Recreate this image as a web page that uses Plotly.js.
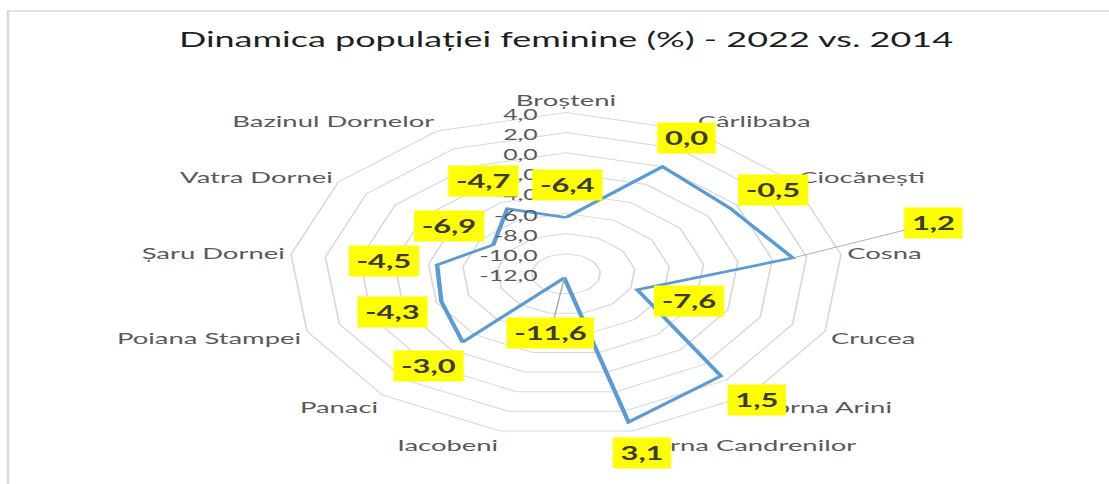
<!DOCTYPE html>
<html>
<head>
<meta charset="utf-8">
<script src="https://cdn.plot.ly/plotly-3.0.1.min.js"></script>
<style>
  html, body { margin: 0; padding: 0; background: #ffffff; overflow: hidden; }
  #chart { width: 647px; height: 484px; transform: scaleX(1.7141); transform-origin: 0 0; }
</style>
</head>
<body>
<div id="chart"></div>
<script>
// ---- data ----
const categories = ['Broșteni', 'Cârlibaba', 'Ciocănești', 'Cosna', 'Crucea', 'Dorna Arini',
  'Dorna Candrenilor', 'Iacobeni', 'Panaci', 'Poiana Stampei', 'Șaru Dornei', 'Vatra Dornei', 'Bazinul Dornelor'];
const values = [-6.4, 0.0, -0.5, 1.2, -7.6, 1.5, 3.1, -11.6, -3.0, -4.3, -4.5, -6.9, -4.7];
const tickValues = [-12, -10, -8, -6, -4, -2, 0, 2, 4];
const tickLabels = ['-12,0', '-10,0', '-8,0', '-6,0', '-4,0', '-2,0', '0,0', '2,0', '4,0'];
const titleText = 'Dinamica populației feminine (%) - 2022 vs. 2014';

// ---- layout / style ----
const S = 1109 / 647;              // horizontal stretch of the original picture
const W = 647, H = 484;
const CX = 330.2, CY = 274, R = 161.6;   // radar centre and radius (unscaled px)
const domX = [(CX - R) / W, (CX + R) / W];
const domY = [(H - CY - R) / H, (H - CY + R) / H];
const rMin = -12, rMax = 4;
// data label offsets from the point (in picture px: dx, dy)
const labelOffsets = [[1, -32], [24, -29], [43, -18], [141, -35], [51, 11], [35, 24], [13, 31],
  [-14, 55], [-35, 24], [-49, 10], [-53, -4], [-44, -19], [-24, -28]];
const leaderLines = [false, false, false, true, false, false, false, true, false, false, false, false, false];

const N = categories.length;
const closedTheta = categories.concat([categories[0]]);
const closedR = values.concat([values[0]]);

const anchorX = [], anchorY = [];
values.forEach((v, i) => {
  const rn = (v - rMin) / (rMax - rMin);
  const th = Math.PI / 2 - i * 2 * Math.PI / N;
  anchorX.push(rn * Math.cos(th));
  anchorY.push(rn * Math.sin(th));
});

const fmt = v => v.toFixed(1).replace('.', ',');

const traces = [
  {
    type: 'scatterpolar',
    r: closedR,
    theta: closedTheta,
    mode: 'lines',
    line: { color: '#5b9bd5', width: 2.6 },
    hoverinfo: 'skip',
    showlegend: false
  },
  {
    type: 'scatter',
    x: anchorX, y: anchorY,
    xaxis: 'x', yaxis: 'y',
    mode: 'markers',
    marker: { opacity: 0, size: 1 },
    hoverinfo: 'skip',
    showlegend: false
  }
];

const annotations = values.map((v, i) => ({
  x: anchorX[i], y: anchorY[i], xref: 'x', yref: 'y',
  text: '<b>' + fmt(v) + '</b>',
  showarrow: true,
  arrowhead: 0,
  arrowwidth: 0.8,
  arrowcolor: leaderLines[i] ? '#a6a6a6' : 'rgba(0,0,0,0)',
  standoff: 0,
  ax: labelOffsets[i][0] / S,
  ay: labelOffsets[i][1],
  bgcolor: '#ffff00',
  borderpad: 4,
  font: { family: 'Lato, "Noto Sans", sans-serif', size: 18, color: '#3a3a3a', weight: 900 }
}));

const layout = {
  width: W, height: H,
  autosize: false,
  margin: { l: 0, r: 0, t: 0, b: 0 },
  paper_bgcolor: '#ffffff',
  plot_bgcolor: 'rgba(0,0,0,0)',
  title: {
    text: titleText,
    x: CX / W, xanchor: 'center',
    y: 1 - 40 / H, yanchor: 'middle',
    font: { family: 'Lato, "Noto Sans", sans-serif', size: 21, color: '#1f1f1f' }
  },
  polar: {
    domain: { x: domX, y: domY },
    bgcolor: 'rgba(0,0,0,0)',
    gridshape: 'linear',
    radialaxis: {
      range: [rMin, rMax],
      tickvals: tickValues,
      ticktext: tickLabels,
      angle: 90,
      side: 'counterclockwise',
      showline: false,
      ticks: 'outside', ticklen: 3, tickcolor: 'rgba(0,0,0,0)',
      gridcolor: '#d9d9d9', gridwidth: 1,
      tickfont: { family: 'Lato, "Noto Sans", sans-serif', size: 14.5, color: '#595959' }
    },
    angularaxis: {
      direction: 'clockwise',
      rotation: 90,
      showgrid: false,
      showline: true, linecolor: '#d9d9d9', linewidth: 1,
      ticks: '',
      tickfont: { family: 'Lato, "Noto Sans", sans-serif', size: 16, color: '#595959' }
    }
  },
  xaxis: { domain: domX, range: [-1, 1], visible: false, fixedrange: true },
  yaxis: { domain: domY, range: [-1, 1], visible: false, fixedrange: true },
  shapes: [{
    type: 'rect', xref: 'paper', yref: 'paper',
    x0: 8 / 1109, x1: 1.05, y0: -0.05, y1: 1 - 11 / H,
    line: { color: '#d9d9d9', width: 1.5 }, fillcolor: 'rgba(0,0,0,0)'
  }],
  annotations: annotations
};

Plotly.newPlot('chart', traces, layout, { displayModeBar: false, staticPlot: true });
</script>
</body>
</html>
